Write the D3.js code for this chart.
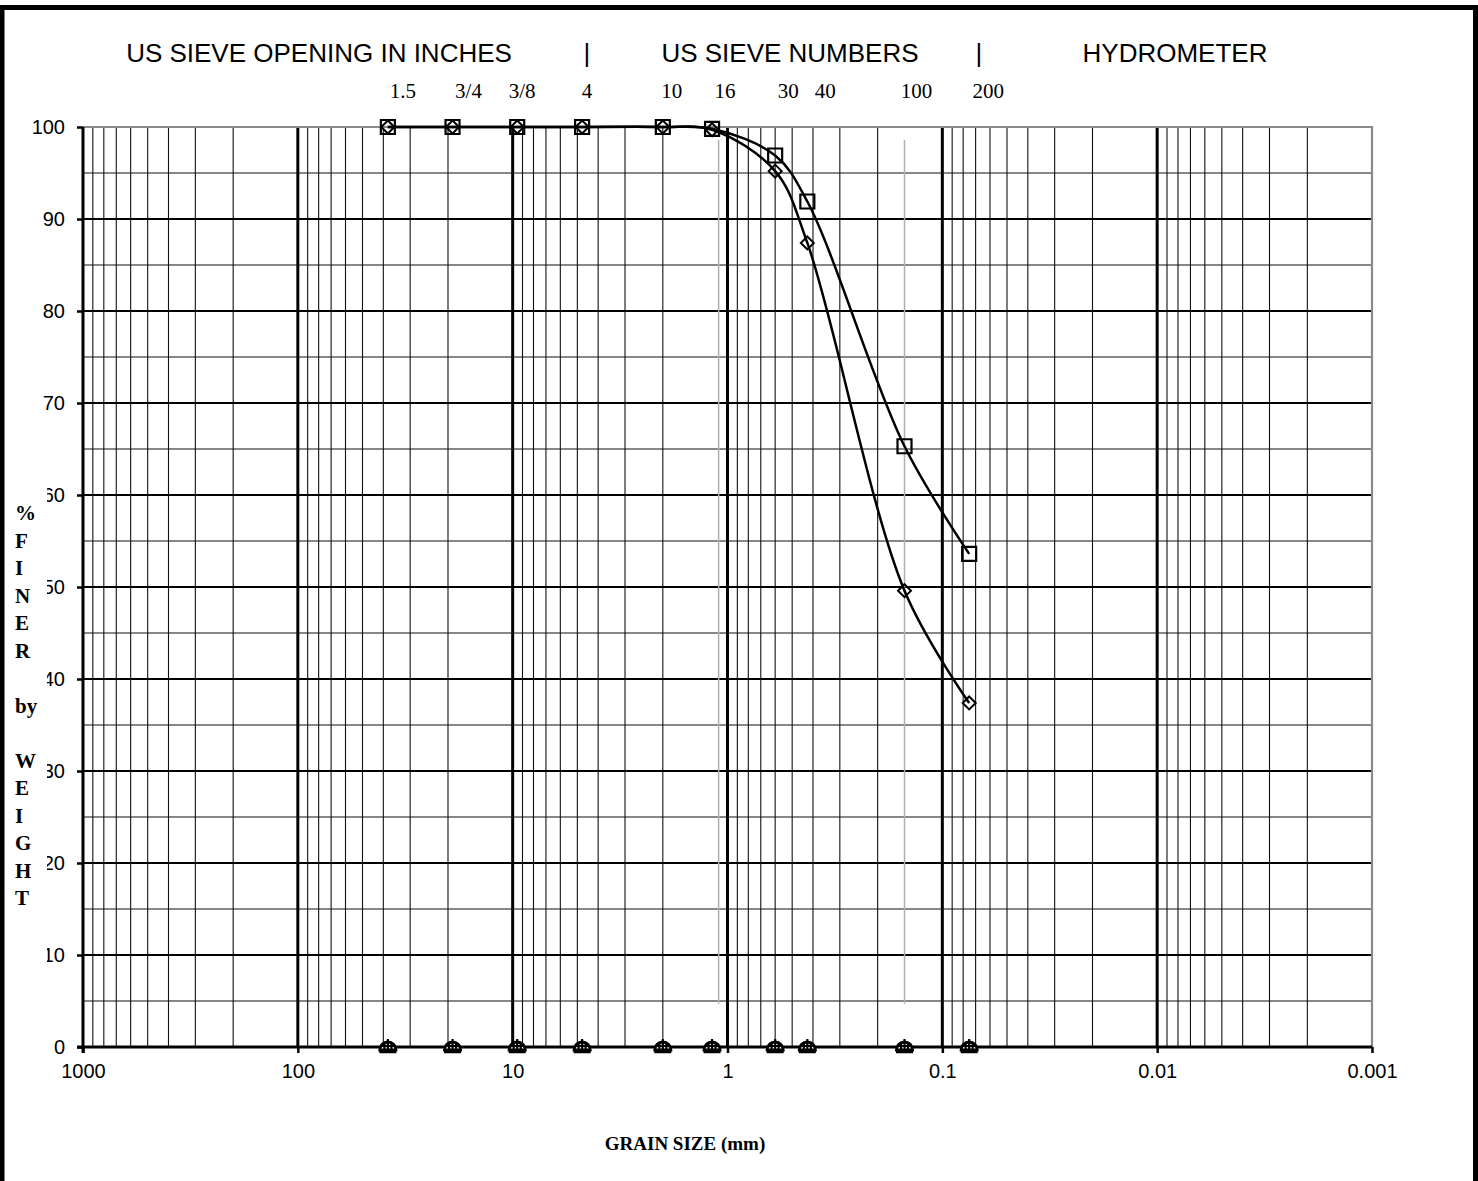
<!DOCTYPE html>
<html><head><meta charset="utf-8">
<script src="https://cdn.jsdelivr.net/npm/d3@7"></script>
<style>
html,body{margin:0;padding:0;background:#fff;}
svg{display:block;}
</style></head>
<body>
<svg id="chart" width="1478" height="1181"></svg>
<script>
// ---------- data ----------
const sieveLabels = ["1.5","3/4","3/8","4","10","16","30","40","100","200"];
const sieveSizes  = [38.1, 19.05, 9.525, 4.75, 2.0, 1.18, 0.6, 0.425, 0.15, 0.075]; // mm
const sieveLabelOffsets = [15, 16, 5, 5, 9, 13, 13, 18, 12, 19];
const seriesSquare  = [100, 100, 100, 100, 100, 99.8, 96.9, 91.9, 65.3, 53.6];
const seriesDiamond = [100, 100, 100, 100, 100, 99.7, 95.2, 87.4, 49.6, 37.4];
const seriesZero    = [0, 0, 0, 0, 0, 0, 0, 0, 0, 0];
const xTickValues = [1000, 100, 10, 1, 0.1, 0.01, 0.001];
const xTickLabels = ["1000","100","10","1","0.1","0.01","0.001"];
const yTickValues = [0,10,20,30,40,50,60,70,80,90,100];
const headerTexts = ["US SIEVE OPENING IN INCHES","|","US SIEVE NUMBERS","|","HYDROMETER"];
const yTitleLines = ["%","F","I","N","E","R","","by","","W","E","I","G","H","T"];
const xTitle = "GRAIN SIZE (mm)";
const dropLineSizes = [1.1, 0.15];

// ---------- layout ----------
const svg = d3.select("#chart");
const L = 83, R = 1372, T = 127, B = 1047;
const x = d3.scaleLog().domain([1000, 0.001]).range([L, R]);
const y = d3.scaleLinear().domain([0, 100]).range([B, T]);
const SANS = "'Liberation Sans', Arial, sans-serif";
const SERIF = "'Liberation Serif', 'Times New Roman', serif";

// outer frame
svg.append("rect").attr("x", 2).attr("y", 7.5).attr("width", 1473.5).attr("height", 1220)
  .attr("fill", "none").attr("stroke", "#000").attr("stroke-width", 5);

const grid = svg.append("g");
// minor vertical gridlines
const minors = [];
[100, 10, 1, 0.1, 0.01, 0.001].forEach(d => { for (let k = 2; k <= 9; k++) minors.push(+(k * d).toPrecision(3)); });
grid.selectAll("line.vmin").data(minors).join("line")
  .attr("x1", d => x(d)).attr("x2", d => x(d)).attr("y1", T).attr("y2", B)
  .attr("stroke", "#111").attr("stroke-width", 1.1);
// decade lines
grid.selectAll("line.vmaj").data([100, 10, 1, 0.1, 0.01]).join("line")
  .attr("x1", d => x(d)).attr("x2", d => x(d)).attr("y1", T).attr("y2", B)
  .attr("stroke", "#000").attr("stroke-width", 3);
// horizontal gridlines
grid.selectAll("line.hmin").data(d3.range(5, 100, 10)).join("line")
  .attr("x1", L).attr("x2", R).attr("y1", d => y(d)).attr("y2", d => y(d))
  .attr("stroke", "#111").attr("stroke-width", 1.2);
grid.selectAll("line.hmaj").data(d3.range(10, 100, 10)).join("line")
  .attr("x1", L).attr("x2", R).attr("y1", d => y(d)).attr("y2", d => y(d))
  .attr("stroke", "#000").attr("stroke-width", 2.2);
// drop lines
grid.selectAll("line.drop").data(dropLineSizes).join("line")
  .attr("x1", d => x(d)).attr("x2", d => x(d)).attr("y1", y(98.6)).attr("y2", y(4.7))
  .attr("stroke", "#b0b0b0").attr("stroke-width", 1.5);
// plot border top/right gray
svg.append("path").attr("d", `M${L},${T}H${R}V${B}`).attr("fill", "none")
  .attr("stroke", "#8a8a8a").attr("stroke-width", 2.2);

// axes
const xAxis = d3.axisBottom(x).tickValues(xTickValues).tickFormat((d, i) => xTickLabels[i]).tickSize(6).tickPadding(11);
const gx = svg.append("g").attr("transform", `translate(0,${B})`).call(xAxis);
const yAxis = d3.axisLeft(y).tickValues(yTickValues).tickSize(6).tickPadding(12);
const gy = svg.append("g").attr("transform", `translate(${L},0)`).call(yAxis);
[gx, gy].forEach(g => {
  g.select(".domain").attr("stroke", "#000").attr("stroke-width", 3);
  g.selectAll(".tick line").attr("stroke", "#000").attr("stroke-width", 2.5);
  g.selectAll(".tick text").attr("font-family", SANS).attr("font-size", 20).attr("fill", "#000");
});
gy.select(".domain").attr("d", `M0,${B + 6}V${T}`);
gx.select(".domain").attr("d", `M${L - 6},0H${R}`);
gx.selectAll(".tick text").attr("dy", "0.71em");

// y title with white box
svg.append("rect").attr("x", 5).attr("y", 484).attr("width", 42).attr("height", 482).attr("fill", "#fff");
svg.append("g").selectAll("text").data(yTitleLines).join("text")
  .attr("x", 15).attr("y", (d, i) => 520 + i * 27.5)
  .attr("font-family", SERIF).attr("font-weight", "bold").attr("font-size", 21)
  .text(d => d);

// header
const headerX = [319, 587, 790, 979, 1175];
svg.append("g").selectAll("text").data(headerTexts).join("text")
  .attr("x", (d, i) => headerX[i]).attr("y", 62).attr("text-anchor", "middle")
  .attr("font-family", SANS).attr("font-size", 26).text(d => d);

// sieve labels
svg.append("g").selectAll("text").data(sieveLabels).join("text")
  .attr("x", (d, i) => x(sieveSizes[i]) + sieveLabelOffsets[i]).attr("y", 98)
  .attr("text-anchor", "middle").attr("font-family", SERIF).attr("font-size", 21).text(d => d);

// x title
svg.append("text").attr("x", 685).attr("y", 1150).attr("text-anchor", "middle")
  .attr("font-family", SERIF).attr("font-weight", "bold").attr("font-size", 19).text(xTitle);

// curves
const line = d3.line().x(d => x(d[0])).y(d => y(d[1])).curve(d3.curveCatmullRom.alpha(0.5));
[seriesSquare, seriesDiamond].forEach(s => {
  svg.append("path").datum(sieveSizes.map((v, i) => [v, s[i]])).attr("d", line)
    .attr("fill", "none").attr("stroke", "#000").attr("stroke-width", 2.5);
});

// markers
const sq = d3.symbol().type(d3.symbolSquare).size(196);
const dm = 6.5;
const diamondPath = `M0,${-dm}L${dm},0L0,${dm}L${-dm},0Z`;
svg.append("g").selectAll("path").data(sieveSizes.map((v, i) => [v, seriesSquare[i]])).join("path")
  .attr("transform", d => `translate(${x(d[0])},${y(d[1])})`).attr("d", sq())
  .attr("fill", "none").attr("stroke", "#000").attr("stroke-width", 2.2);
svg.append("g").selectAll("path").data(sieveSizes.map((v, i) => [v, seriesDiamond[i]])).join("path")
  .attr("transform", d => `translate(${x(d[0])},${y(d[1])})`).attr("d", diamondPath)
  .attr("fill", "none").attr("stroke", "#000").attr("stroke-width", 2);

// zero markers (dome-like)
const zg = svg.append("g").selectAll("g").data(sieveSizes.map((v, i) => [v, seriesZero[i]])).join("g")
  .attr("transform", d => `translate(${x(d[0])},${y(d[1])})`);
zg.append("path").attr("d", "M-8,3A8,8 0 0 1 8,3Z").attr("fill", "#fff").attr("stroke", "#000").attr("stroke-width", 3);
zg.append("path").attr("d", "M0,-8V6M-3.5,-5V6M3.5,-5V6M-7.5,-1H7.5").attr("stroke", "#000").attr("stroke-width", 2.2);
zg.append("path").attr("d", "M-8.5,5H8.5").attr("stroke", "#000").attr("stroke-width", 2.5);
</script>
</body></html>
